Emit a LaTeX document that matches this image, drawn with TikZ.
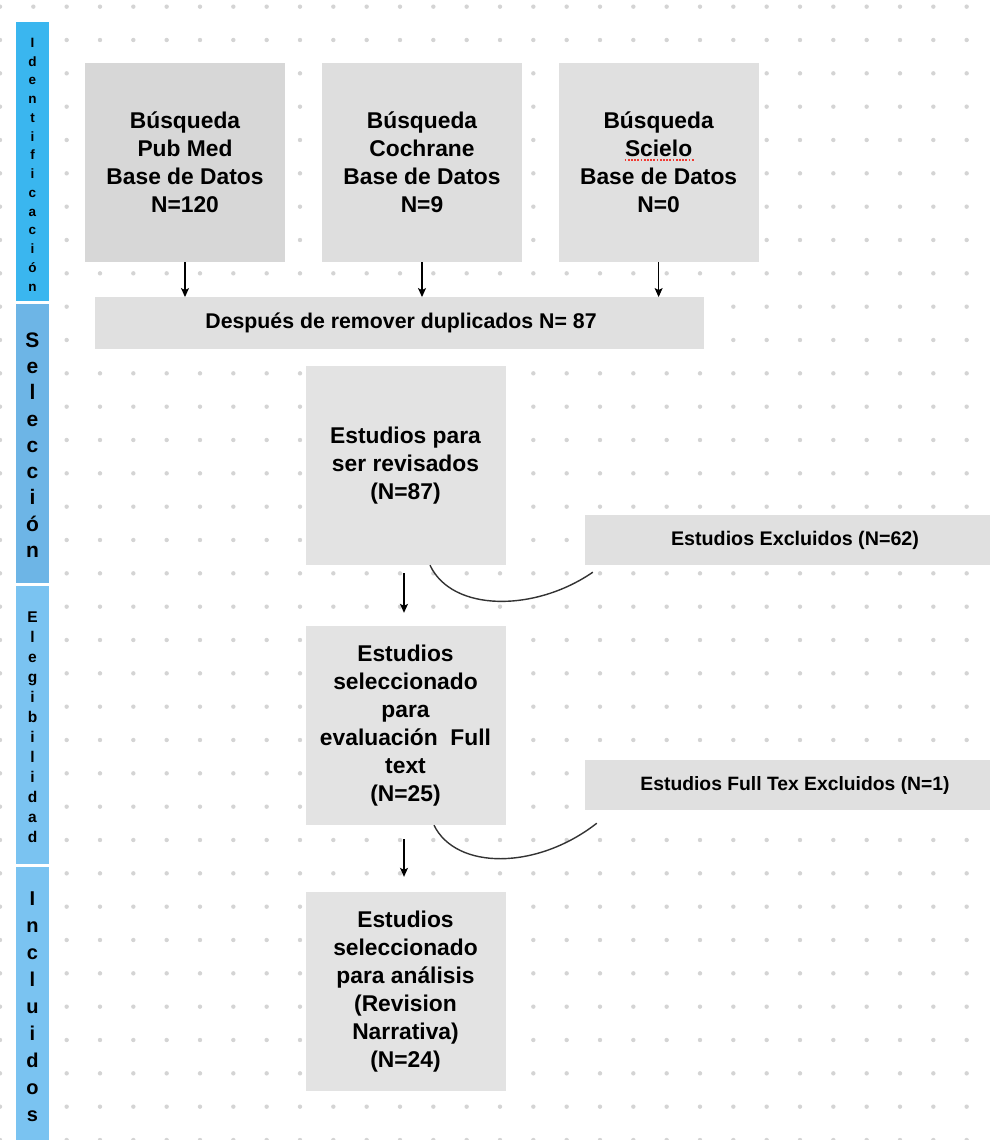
\documentclass[tikz,border=0pt]{standalone}
\usepackage{fontspec}
\setmainfont{Liberation Sans}
\usetikzlibrary{arrows.meta,calc}
\definecolor{dotc}{HTML}{D4D4D4}
\definecolor{boxA}{HTML}{D7D7D7}
\definecolor{boxB}{HTML}{DEDEDE}
\definecolor{boxC}{HTML}{E0E0E0}
\definecolor{boxD}{HTML}{E3E3E3}
\definecolor{sbA}{HTML}{3AB6EF}
\definecolor{sbB}{HTML}{6DB5E6}
\definecolor{sbC}{HTML}{7AC3F1}
\definecolor{curvec}{HTML}{333333}
\definecolor{spellred}{HTML}{F03A32}
\begin{document}
\begin{tikzpicture}[x=1pt,y=-1pt,
  bigbox/.style={inner sep=0pt, align=center, minimum width=200pt, minimum height=199pt,
    font=\bfseries\fontsize{22.8}{28}\selectfont},
  widebox/.style={inner sep=0pt, align=center, minimum height=50pt},
  sidebar/.style={inner sep=0pt, minimum width=33pt},
  sideletters/.style={inner sep=0pt, align=center},
  arr/.style={line width=1.2pt, -{Stealth[length=9pt,width=8pt,inset=2pt]}},
  curveline/.style={line width=1.4pt, draw=curvec}
]
\useasboundingbox (0,0) rectangle (990,1140);
\clip (0,0) rectangle (990,1140);
\fill[white] (0,0) rectangle (990,1140);
% dot grid
\foreach \i in {0,...,29}{
  \foreach \j in {0,...,34}{
    \fill[dotc] (\i*33.333, 6.667+\j*33.333) circle (2.2pt);
  }
}
% sidebar
\node[sidebar, fill=sbA, minimum height=279pt] (s1) at (32.5,161.5) {};
\node[sidebar, fill=sbB, minimum height=279pt] (s2) at (32.5,443.5) {};
\node[sidebar, fill=sbC, minimum height=278pt] (s3) at (32.5,725) {};
\node[sidebar, fill=sbC, minimum height=274pt] (s4) at (32.5,1004) {};
\node[sideletters, font=\bfseries\fontsize{13.5}{18.75}\selectfont] (t1) at (32.5,164.5)
  {I\\d\\e\\n\\t\\i\\f\\i\\c\\a\\c\\i\\ó\\n};
\node[sideletters, font=\bfseries\fontsize{21}{26.25}\selectfont] (t2) at (32.5,445)
  {S\\e\\l\\e\\c\\c\\i\\ó\\n};
\node[sideletters, font=\bfseries\fontsize{15.5}{20}\selectfont] (t3) at (32.5,727)
  {E\\l\\e\\g\\i\\b\\i\\l\\i\\d\\a\\d};
\node[sideletters, font=\bfseries\fontsize{20}{27}\selectfont] (t4) at (32.5,1006.5)
  {I\\n\\c\\l\\u\\i\\d\\o\\s};
% top boxes
\node[bigbox, fill=boxA] (b1) at (185,162.5) {Búsqueda\\Pub Med\\Base de Datos\\N=120};
\node[bigbox, fill=boxB] (b2) at (422,162.5) {Búsqueda\\Cochrane\\Base de Datos\\N=9};
\node[bigbox, fill=boxC] (b3) at (658.6,162.5) {Búsqueda\\Scielo\\Base de Datos\\N=0};
\draw[spellred, line width=1.6pt, dash pattern=on 1.8pt off 1.4pt] ($(b3.center)+(-34,-2.5)$) -- ($(b3.center)+(35,-2.5)$);
% duplicates
\node[widebox, fill=boxC, minimum width=609pt, minimum height=51.5pt,
  font=\bfseries\fontsize{21.3}{24}\selectfont] (dup) at (399.5,323)
  {\hspace*{3pt}Después de remover duplicados N= 87};
\draw[arr] (b1.south) -- (b1.south |- dup.north);
\draw[arr] (b2.south) -- (b2.south |- dup.north);
\draw[arr] (b3.south) -- (b3.south |- dup.north);
% middle column
\node[bigbox, fill=boxD] (rev) at (405.5,465.5) {Estudios para\\ser revisados\\(N=87)};
\node[bigbox, fill=boxD] (ft) at (405.5,725.5) {Estudios\\seleccionado\\para\\evaluación\ \ Full\\text\\(N=25)};
\node[bigbox, fill=boxD] (fin) at (405.5,991.5) {Estudios\\seleccionado\\para análisis\\(Revision\\Narrativa)\\(N=24)};
% excluded boxes
\node[widebox, fill=boxC, minimum width=420pt, font=\bfseries\fontsize{19.7}{24}\selectfont]
  (ex1) at (795,540) {Estudios Excluidos (N=62)};
\node[widebox, fill=boxC, minimum width=420pt, font=\bfseries\fontsize{19.3}{24}\selectfont]
  (ex2) at (795,785) {Estudios Full Tex Excluidos (N=1)};
% arrows down
\draw[arr] ($(rev.south)+(-1.5,8)$) -- ($(ft.north)+(-1.5,-13)$);
\draw[arr] ($(ft.south)+(-1.5,14)$) -- ($(fin.north)+(-1.5,-15)$);
% curves
\coordinate (c1s) at ($(rev.south)+(24.5,0)$);
\coordinate (c1e) at ($(ex1.south west)+(8,7)$);
\draw[curveline] (c1s) .. controls +(22,47) and +(-58,40) .. (c1e);
\coordinate (c2s) at ($(ft.south)+(28.5,0)$);
\coordinate (c2e) at ($(ex2.south west)+(12,13)$);
\draw[curveline] (c2s) .. controls +(22,45) and +(-60,47) .. (c2e);
\end{tikzpicture}
\end{document}
